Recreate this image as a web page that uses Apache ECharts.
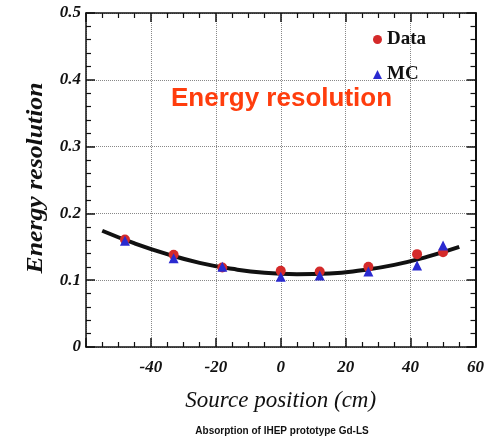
<!DOCTYPE html>
<html>
<head>
<meta charset="utf-8">
<script src="https://cdn.jsdelivr.net/npm/echarts@6/dist/echarts.min.js"></script>
<style>
html,body{margin:0;padding:0;background:#fff;}
#c{width:487px;height:438px;}
</style>
</head>
<body>
<div id="c"></div>
<script>
// Source positions (cm)
var positions = [-48, -33, -18, 0, 12, 27, 42, 50];
// Measured energy resolution (Data)
var dataValues = [0.161, 0.138, 0.119, 0.114, 0.113, 0.120, 0.139, 0.142];
// Simulated energy resolution (MC)
var mcValues = [0.159, 0.133, 0.120, 0.105, 0.107, 0.113, 0.122, 0.152];
// Fit curve
var fitX = [-55, -45, -35, -25, -15, -5, 5, 15, 25, 35, 45, 55];
var fitY = [0.174, 0.155, 0.139, 0.126, 0.117, 0.111, 0.109, 0.110, 0.115, 0.123, 0.135, 0.150];
// Axis ticks
var xTicks = [-40, -20, 0, 20, 40, 60];
var yTicks = [0, 0.1, 0.2, 0.3, 0.4, 0.5];

function pairs(xs, ys) { return xs.map(function (x, i) { return [x, ys[i]]; }); }

var serifBI = { fontFamily: 'Liberation Serif', fontWeight: 'bold', fontStyle: 'italic', color: '#111' };

var chart = echarts.init(document.getElementById('c'), null, { renderer: 'canvas' });
var lineStyle = { color: '#111', width: 1.5 };
var tickBase = { show: true, inside: true, length: 9, lineStyle: { color: '#111', width: 1.5 } };
var minorBase = { show: true, length: 5, lineStyle: { color: '#111', width: 1.2 } };

chart.setOption({
  animation: false,
  backgroundColor: '#fff',
  title: {
    text: 'Energy resolution',
    left: 171, top: 86, padding: 0,
    textStyle: { fontFamily: 'Liberation Sans', fontWeight: 'bold', fontSize: 26, color: '#ff3d0d' }
  },
  legend: {
    orient: 'vertical',
    left: 368, top: 25,
    itemWidth: 9, itemHeight: 9, itemGap: 16,
    textStyle: { fontFamily: 'Liberation Serif', fontWeight: 'bold', fontSize: 19, color: '#111', lineHeight: 18 },
    data: [{ name: 'Data', icon: 'circle' }, { name: 'MC', icon: 'triangle' }]
  },
  grid: { left: 86, top: 13, width: 390, height: 334, containLabel: false },
  xAxis: [{
    type: 'value', position: 'bottom', min: -60, max: 60, interval: 20,
    name: 'Source position (cm)', nameLocation: 'middle', nameGap: 42,
    nameTextStyle: { fontFamily: 'Liberation Serif', fontStyle: 'italic', fontSize: 23, color: '#111' },
    axisLine: { show: true, onZero: false, lineStyle: lineStyle },
    axisTick: tickBase,
    minorTick: Object.assign({ splitNumber: 4 }, minorBase),
    axisLabel: Object.assign({ fontSize: 17, margin: 12, showMinLabel: false }, serifBI),
    splitLine: { show: true, lineStyle: { type: 'dotted', color: '#888', width: 1 } }
  }, {
    type: 'value', position: 'top', min: -60, max: 60, interval: 20,
    axisLine: { show: true, onZero: false, lineStyle: lineStyle },
    axisTick: tickBase,
    minorTick: Object.assign({ splitNumber: 4 }, minorBase),
    axisLabel: { show: false },
    splitLine: { show: false }
  }],
  yAxis: [{
    type: 'value', position: 'left', min: 0, max: 0.5, interval: 0.1,
    axisLine: { show: true, onZero: false, lineStyle: lineStyle },
    axisTick: tickBase,
    minorTick: Object.assign({ splitNumber: 5 }, minorBase),
    axisLabel: Object.assign({ fontSize: 17, margin: 5, formatter: function (v) { return v === 0 ? '0' : v.toFixed(1); } }, serifBI),
    splitLine: { show: true, lineStyle: { type: 'dotted', color: '#888', width: 1 } }
  }, {
    type: 'value', position: 'right', min: 0, max: 0.5, interval: 0.1,
    axisLine: { show: true, onZero: false, lineStyle: { color: '#111', width: 2 } },
    axisTick: tickBase,
    minorTick: Object.assign({ splitNumber: 5 }, minorBase),
    axisLabel: { show: false },
    splitLine: { show: false }
  }],
  series: [{
    name: 'Fit', type: 'line', smooth: true, showSymbol: false, symbol: 'none',
    data: pairs(fitX, fitY),
    lineStyle: { color: '#111', width: 4 },
    z: 2
  }, {
    name: 'Data', type: 'scatter', symbol: 'circle', symbolSize: 10,
    data: pairs(positions, dataValues),
    itemStyle: { color: '#d42a2a', opacity: 1 },
    z: 3
  }, {
    name: 'MC', type: 'scatter', symbol: 'triangle', symbolSize: 10,
    data: pairs(positions, mcValues),
    itemStyle: { color: '#2a2ad0', opacity: 1 },
    z: 4
  }],
  graphic: [{
    type: 'text', x: 36, y: 178, rotation: Math.PI / 2, scaleX: 1.12,
    style: { text: 'Energy resolution', fontFamily: 'Liberation Serif', fontWeight: 'bold', fontStyle: 'italic', fontSize: 23, fill: '#111', align: 'center', verticalAlign: 'middle' }
  }, {
    type: 'text', x: 282, y: 431,
    style: { text: 'Absorption of IHEP prototype Gd-LS', fontFamily: 'Liberation Sans', fontWeight: 'bold', fontSize: 10, fill: '#111', align: 'center', verticalAlign: 'middle' }
  }]
});
</script>
</body>
</html>
